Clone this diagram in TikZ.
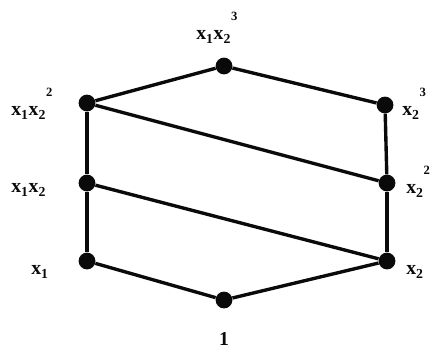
\documentclass[tikz,border=0pt]{standalone}
\usepackage{fontspec}
\setmainfont{Liberation Serif}
\usetikzlibrary{positioning}
\definecolor{ink}{RGB}{10,10,10}
\newcommand{\xv}[1]{x\textsubscript{\raisebox{-0.3ex}{#1}}}
\newcommand{\ex}[1]{\raisebox{2.1ex}{\small #1}}
\tikzset{
  dot/.style={circle,fill=ink,inner sep=0pt,minimum size=4.2mm},
  edge/.style={draw=ink,line width=2.4pt},
  lbl/.style={font=\fontsize{14}{16}\selectfont\bfseries,text=ink,inner sep=0pt,anchor=base west},
}
\begin{document}
\begin{tikzpicture}[x=0.025cm,y=-0.025cm]
    \useasboundingbox (0,0) rectangle (434,349);
    % elements of the poset
    \foreach \n/\x/\y in {one/224/300, a/87/261, b/387/261, ab/87/183, bb/387/183,
      abb/87/103, bbb/385/105, abbb/224/66}
      \node[dot] (\n) at (\x,\y) {};
    % cover relations
    \foreach \u/\v in {one/a, one/b, a/ab, b/bb, ab/b, ab/abb, bb/bbb, abb/bb, abb/abbb, bbb/abbb}
      \draw[edge] (\u) -- (\v);
    \node[lbl] (l-abbb) at (196,39) {\xv1\xv2\ex{3}};
    \node[lbl] (l-abb) at (11,115) {\xv1\xv2\ex{2}};
    \node[lbl] (l-ab) at (11,192) {\xv1\xv2};
    \node[lbl] (l-a) at (31,274) {\xv1};
    \node[lbl] (l-bbb) at (402,115) {\xv2\ex{3}};
    \node[lbl] (l-bb) at (406,193) {\xv2\ex{2}};
    \node[lbl] (l-b) at (406,274) {\xv2};
    \node[lbl,anchor=base] (l-one) at (224,345) {1};
  \end{tikzpicture}
\end{document}
